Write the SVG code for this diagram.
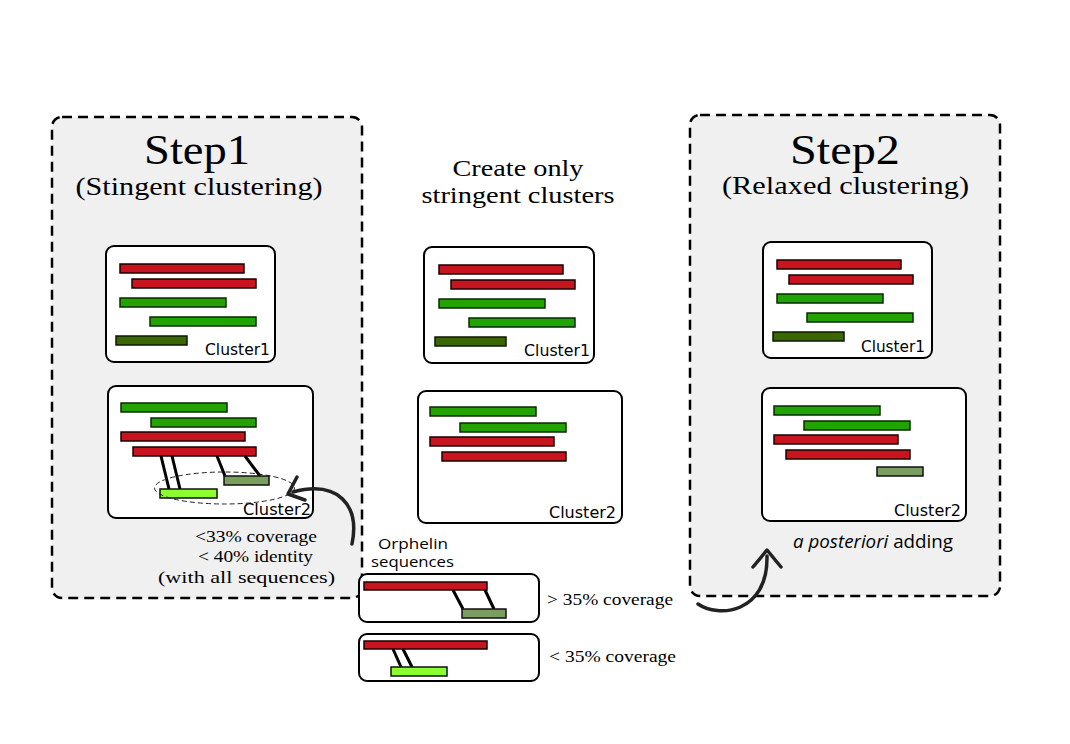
<svg xmlns="http://www.w3.org/2000/svg" width="1070" height="744" viewBox="0 0 1070 744">
<defs><style>
.step{fill:#f0f0f0;stroke:#000;stroke-width:2.5;stroke-dasharray:10,6}
.card{fill:#fff;stroke:#000;stroke-width:2}
.red{fill:#c8141e;stroke:#1a0000;stroke-width:1.5}
.grn{fill:#22a300;stroke:#0a2a00;stroke-width:1.5}
.dk{fill:#3b6600;stroke:#0a1a00;stroke-width:1.5}
.olv{fill:#7a9e5e;stroke:#111;stroke-width:1.5}
.lim{fill:#8cff2e;stroke:#111;stroke-width:1.5}
.lnk{stroke:#000;stroke-width:3;fill:none}
.ser{font-family:"Liberation Serif","Times New Roman",serif;fill:#000}
.lbl{font-family:"DejaVu Sans",sans-serif;font-size:15px;fill:#000}
.sans{font-family:"Open Sans",sans-serif;fill:#000}
.arr{fill:none;stroke:#222;stroke-width:3.5;stroke-linecap:round;stroke-linejoin:round}
</style></defs>
<rect width="1070" height="744" fill="#fff"/>

<g id="step1">
<rect class="step" x="52" y="117" width="310" height="481" rx="10"/>
<text class="ser" x="197" y="164" font-size="43" text-anchor="middle" textLength="106" lengthAdjust="spacingAndGlyphs">Step1</text>
<text class="ser" x="199" y="195" font-size="26" text-anchor="middle" textLength="247" lengthAdjust="spacingAndGlyphs">(Stingent clustering)</text>
<text class="ser" x="195" y="542" font-size="16" textLength="122" lengthAdjust="spacingAndGlyphs">&lt;33% coverage</text>
<text class="ser" x="198" y="562" font-size="16" textLength="115" lengthAdjust="spacingAndGlyphs">&lt; 40% identity</text>
<text class="ser" x="158" y="583" font-size="16" textLength="177" lengthAdjust="spacingAndGlyphs">(with all sequences)</text>
</g>

<g id="step1-cluster1">
<rect class="card" x="106" y="246" width="169" height="116" rx="8"/>
<rect class="red" x="120" y="264" width="124" height="9"/>
<rect class="red" x="132" y="279" width="124" height="9"/>
<rect class="grn" x="120" y="298" width="106" height="9"/>
<rect class="grn" x="150" y="317" width="106" height="9"/>
<rect class="dk" x="116" y="336" width="71" height="9"/>
<text class="lbl" x="205" y="355" textLength="65" lengthAdjust="spacingAndGlyphs">Cluster1</text>
</g>

<g id="step1-cluster2">
<rect class="card" x="108" y="386" width="205" height="132" rx="8"/>
<rect class="grn" x="121" y="403" width="106" height="9"/>
<rect class="grn" x="151" y="418" width="105" height="9"/>
<rect class="red" x="121" y="432" width="124" height="9"/>
<rect class="red" x="133" y="447" width="123" height="9"/>
<path class="lnk" d="M161,456 L169,489 M172,456 L180,489 M217,456 L225,476 M245,456 L260,476"/>
<rect class="olv" x="224" y="476" width="45" height="9"/>
<rect class="lim" x="160" y="489" width="57" height="9"/>
<ellipse cx="224.5" cy="488" rx="70" ry="16" fill="none" stroke="#222" stroke-width="1" stroke-dasharray="5,3"/>
<text class="lbl" x="243" y="515" textLength="68" lengthAdjust="spacingAndGlyphs">Cluster2</text>
</g>

<g id="middle-title">
<text class="ser" x="518" y="176" font-size="23" text-anchor="middle" textLength="131" lengthAdjust="spacingAndGlyphs">Create only</text>
<text class="ser" x="518" y="203" font-size="23" text-anchor="middle" textLength="193" lengthAdjust="spacingAndGlyphs">stringent clusters</text>
</g>

<g id="mid-cluster1">
<rect class="card" x="424" y="247" width="170" height="116" rx="8"/>
<rect class="red" x="439" y="265" width="124" height="9"/>
<rect class="red" x="451" y="280" width="124" height="9"/>
<rect class="grn" x="439" y="299" width="106" height="9"/>
<rect class="grn" x="469" y="318" width="106" height="9"/>
<rect class="dk" x="435" y="337" width="71" height="9"/>
<text class="lbl" x="524" y="356" textLength="66" lengthAdjust="spacingAndGlyphs">Cluster1</text>
</g>

<g id="mid-cluster2">
<rect class="card" x="418" y="391" width="204" height="132" rx="8"/>
<rect class="grn" x="430" y="407" width="106" height="9"/>
<rect class="grn" x="460" y="423" width="106" height="9"/>
<rect class="red" x="430" y="437" width="124" height="9"/>
<rect class="red" x="442" y="452" width="124" height="9"/>
<text class="lbl" x="549" y="518" textLength="67" lengthAdjust="spacingAndGlyphs">Cluster2</text>
</g>

<g id="step2">
<rect class="step" x="690" y="115" width="310" height="481" rx="10"/>
<text class="ser" x="845" y="164" font-size="43" text-anchor="middle" textLength="110" lengthAdjust="spacingAndGlyphs">Step2</text>
<text class="ser" x="845.5" y="194" font-size="26" text-anchor="middle" textLength="247" lengthAdjust="spacingAndGlyphs">(Relaxed clustering)</text>
<text class="sans" x="793" y="548" font-size="18" textLength="160" lengthAdjust="spacingAndGlyphs"><tspan font-style="italic">a posteriori</tspan> adding</text>
</g>

<g id="step2-cluster1">
<rect class="card" x="763" y="242" width="169" height="116" rx="8"/>
<rect class="red" x="777" y="260" width="124" height="9"/>
<rect class="red" x="789" y="275" width="124" height="9"/>
<rect class="grn" x="777" y="294" width="106" height="9"/>
<rect class="grn" x="807" y="313" width="106" height="9"/>
<rect class="dk" x="773" y="332" width="71" height="9"/>
<text class="lbl" x="861" y="352" textLength="64" lengthAdjust="spacingAndGlyphs">Cluster1</text>
</g>

<g id="step2-cluster2">
<rect class="card" x="762" y="388" width="204" height="133" rx="8"/>
<rect class="grn" x="774" y="406" width="106" height="9"/>
<rect class="grn" x="804" y="421" width="106" height="9"/>
<rect class="red" x="774" y="435" width="124" height="9"/>
<rect class="red" x="786" y="450" width="124" height="9"/>
<rect class="olv" x="877" y="467" width="46" height="9"/>
<text class="lbl" x="894" y="516" textLength="67" lengthAdjust="spacingAndGlyphs">Cluster2</text>
</g>

<g id="orphelin">
<text class="sans" x="378" y="549" font-size="15" textLength="70" lengthAdjust="spacingAndGlyphs">Orphelin</text>
<text class="sans" x="371" y="567" font-size="15" textLength="83" lengthAdjust="spacingAndGlyphs">sequences</text>
</g>

<g id="orphelin-high">
<rect class="card" x="359" y="574" width="180" height="48" rx="8"/>
<rect class="red" x="364" y="582" width="123" height="8"/>
<path class="lnk" d="M453,590 L463,609 M485,590 L494,609"/>
<rect class="olv" x="462" y="609" width="44" height="9"/>
<text class="ser" x="547" y="605" font-size="16" textLength="126" lengthAdjust="spacingAndGlyphs">&gt; 35% coverage</text>
</g>

<g id="orphelin-low">
<rect class="card" x="359" y="634" width="180" height="47" rx="8"/>
<rect class="red" x="364" y="641" width="123" height="8"/>
<path class="lnk" d="M393,649 L401,667 M403,649 L412,667"/>
<rect class="lim" x="391" y="667" width="56" height="9"/>
<text class="ser" x="549" y="662" font-size="16" textLength="127" lengthAdjust="spacingAndGlyphs">&lt; 35% coverage</text>
</g>

<g id="connectors">
<path class="arr" d="M352,544 C360,505 338,480 293,492"/>
<path class="arr" d="M297,477 L288,494 L305,500"/>
<path class="arr" d="M698,604 C718,618 768,614 767,556"/>
<path class="arr" d="M753,567 L767,550 L781,567"/>
</g>
</svg>
